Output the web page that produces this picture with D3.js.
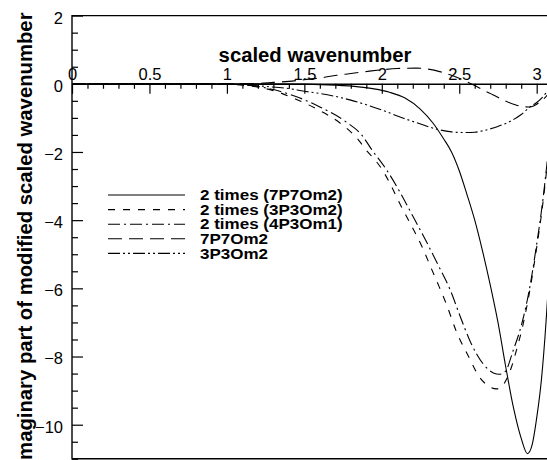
<!DOCTYPE html>
<html>
<head>
<meta charset="utf-8">
<script src="https://cdn.jsdelivr.net/npm/d3@7"></script>
<style>
  body { margin: 0; background: #fff; }
  svg { display: block; font-family: "Liberation Sans", Arial, Helvetica, sans-serif; }
</style>
</head>
<body>
<svg id="chart" width="547" height="460"></svg>
<script>
// curves, [scaled wavenumber, imaginary part]
const twice7P7Om2 = [[0,0],[1.2,0],[1.5,-0.01],[1.7,-0.04],[1.85,-0.09],[1.95,-0.15],[2.05,-0.25],[2.15,-0.42],[2.25,-0.75],[2.33,-1.15],[2.4,-1.62],[2.45,-2.0],[2.5,-2.55],[2.55,-3.25],[2.6,-4.0],[2.65,-4.9],[2.7,-5.9],[2.75,-7.0],[2.8,-8.3],[2.85,-9.5],[2.9,-10.4],[2.94,-10.85],[2.97,-10.6],[3.0,-9.8],[3.03,-8.7],[3.06,-7.0],[3.08,-5.5],[3.1,-3.5]];
const twice3P3Om2 = [[0,0],[0.9,0],[1.0,-0.01],[1.1,-0.04],[1.2,-0.1],[1.3,-0.2],[1.43,-0.42],[1.58,-0.74],[1.73,-1.15],[1.85,-1.65],[1.9,-1.95],[1.95,-2.2],[2.0,-2.5],[2.05,-2.9],[2.12,-3.55],[2.19,-4.15],[2.26,-4.78],[2.32,-5.42],[2.37,-5.95],[2.42,-6.5],[2.48,-7.25],[2.56,-8.0],[2.63,-8.6],[2.69,-8.87],[2.74,-8.95],[2.775,-8.88],[2.806,-8.66],[2.84,-8.27],[2.87,-7.8],[2.91,-7.1],[2.95,-6.2],[3.0,-4.8],[3.04,-3.5],[3.065,-2.5],[3.1,-1.0]];
const twice4P3Om1 = [[0,0],[0.9,0],[1.0,-0.01],[1.1,-0.03],[1.2,-0.08],[1.3,-0.17],[1.45,-0.38],[1.6,-0.68],[1.77,-1.12],[1.87,-1.5],[1.935,-1.93],[2.03,-2.52],[2.12,-3.2],[2.2,-3.88],[2.28,-4.56],[2.365,-5.33],[2.44,-6.03],[2.505,-6.81],[2.57,-7.55],[2.655,-8.22],[2.72,-8.48],[2.76,-8.52],[2.795,-8.45],[2.85,-7.8],[2.9,-7.1],[2.95,-6.1],[3.0,-4.7],[3.04,-3.4],[3.065,-2.4],[3.1,-0.9]];
const single7P7Om2 = [[0,0],[1.0,0],[1.2,0.01],[1.3,0.04],[1.4,0.07],[1.5,0.12],[1.6,0.17],[1.71,0.25],[1.8,0.3],[1.92,0.37],[2.0,0.41],[2.1,0.45],[2.22,0.46],[2.3,0.43],[2.38,0.35],[2.45,0.25],[2.53,0.1],[2.6,-0.05],[2.66,-0.2],[2.72,-0.33],[2.78,-0.47],[2.85,-0.6],[2.91,-0.67],[2.95,-0.68],[2.98,-0.65],[3.0,-0.6],[3.04,-0.46],[3.07,-0.33],[3.1,-0.2]];
const single3P3Om2 = [[0,0],[0.95,0],[1.1,-0.03],[1.257,-0.08],[1.4,-0.14],[1.5,-0.22],[1.58,-0.27],[1.7,-0.37],[1.8,-0.48],[1.924,-0.65],[2.0,-0.77],[2.14,-1.01],[2.25,-1.18],[2.354,-1.33],[2.45,-1.41],[2.53,-1.43],[2.6,-1.42],[2.66,-1.37],[2.75,-1.25],[2.83,-1.1],[2.9,-0.9],[2.96,-0.67],[3.0,-0.55],[3.04,-0.38],[3.07,-0.22],[3.1,-0.1]];

const seriesNames = ["2 times (7P7Om2)", "2 times (3P3Om2)", "2 times (4P3Om1)", "7P7Om2", "3P3Om2"];
const seriesData = [twice7P7Om2, twice3P3Om2, twice4P3Om1, single7P7Om2, single3P3Om2];
const dashes = ["none", "7,8", "12,4,2,4", "14,7", "12,3,2,3,2,3"];

const xMajor = [0, 0.5, 1, 1.5, 2, 2.5, 3];
const yMajor = [2, 0, -2, -4, -6, -8, -10];

const svg = d3.select("#chart");
const plotLeft = 72, plotTop = 15.6, plotBottom = 458.8;

const x = d3.scaleLinear().domain([0, Math.PI]).range([plotLeft, plotLeft + Math.PI * 154.9]);
const y = d3.scaleLinear().domain([-11, 2]).range([plotBottom, plotTop]);

svg.append("defs").append("clipPath").attr("id", "plot")
  .append("rect").attr("x", plotLeft).attr("y", plotTop)
  .attr("width", x(Math.PI) - plotLeft).attr("height", plotBottom - plotTop);

// frame
svg.append("path")
  .attr("d", `M${x(Math.PI)},${plotTop}H${plotLeft}V${plotBottom}H${x(Math.PI)}`)
  .attr("fill", "none").attr("stroke", "#000").attr("stroke-width", 1.4);

// x axis sits on zero, ticks hang down, labels above
const xMinor = d3.range(0, 3.15, 0.1).filter(v => Math.abs(v * 2 - Math.round(v * 2)) > 1e-6);
svg.append("g").attr("transform", `translate(0,${y(0)})`)
  .call(d3.axisTop(x).tickValues(xMinor).tickSizeInner(-5).tickSizeOuter(0).tickFormat(""))
  .call(g => g.select(".domain").remove())
  .selectAll("line").attr("stroke-width", 1.2);
svg.append("g").attr("transform", `translate(0,${y(0)})`)
  .call(d3.axisTop(x).tickValues(xMajor).tickSizeInner(-10).tickSizeOuter(0).tickPadding(4).tickFormat(d3.format("")))
  .call(g => g.select(".domain").attr("stroke-width", 1.6))
  .call(g => g.selectAll("line").attr("stroke-width", 1.2))
  .call(g => g.selectAll("text").attr("font-size", 16.5).attr("fill", "#000"))
  .attr("font-family", null);

// y axis on the left edge, ticks point inward
const yMinor = d3.range(-11, 2.01, 0.5).filter(v => Math.abs(v / 2 - Math.round(v / 2)) > 1e-6);
svg.append("g").attr("transform", `translate(${plotLeft},0)`)
  .call(d3.axisLeft(y).tickValues(yMinor).tickSizeInner(-6).tickSizeOuter(0).tickFormat(""))
  .call(g => g.select(".domain").remove())
  .selectAll("line").attr("stroke-width", 1.2);
svg.append("g").attr("transform", `translate(${plotLeft},0)`)
  .call(d3.axisLeft(y).tickValues(yMajor).tickSizeInner(-11).tickSizeOuter(0).tickPadding(9).tickFormat(d3.format("")))
  .call(g => g.select(".domain").remove())
  .call(g => g.selectAll("line").attr("stroke-width", 1.2))
  .call(g => g.selectAll("text").attr("font-size", 16.5).attr("dy", "0.45em").attr("fill", "#000"))
  .attr("font-family", null);

// curves
const line = d3.line().x(d => x(d[0])).y(d => y(d[1])).curve(d3.curveMonotoneX);
svg.append("g").attr("clip-path", "url(#plot)")
  .selectAll("path").data(seriesData).join("path")
  .attr("d", line)
  .attr("fill", "none").attr("stroke", "#000").attr("stroke-width", 1.1)
  .attr("stroke-dasharray", (d, i) => dashes[i]);

// titles
svg.append("text").attr("x", 315).attr("y", 62).attr("text-anchor", "middle")
  .attr("font-size", 20.3).attr("font-weight", "bold").text("scaled wavenumber");
svg.append("text").attr("transform", "translate(32,239) rotate(-90)").attr("text-anchor", "middle")
  .attr("font-size", 20.3).attr("font-weight", "bold").text("Imaginary part of modified scaled wavenumber");

// legend (the original face is wider than Arial, so stretch it a bit)
const legend = svg.append("g").selectAll("g").data(seriesNames).join("g")
  .attr("transform", (d, i) => `translate(108,${195 + i * 14.6})`);
legend.append("line").attr("x1", 0).attr("x2", 77)
  .attr("stroke", "#000").attr("stroke-width", 1.1)
  .attr("stroke-dasharray", (d, i) => dashes[i]);
legend.append("text").attr("transform", "translate(92,0) scale(1.19,1)").attr("dy", "0.36em")
  .attr("font-size", 14.3).attr("font-weight", "bold").text(d => d);
</script>
</body>
</html>
